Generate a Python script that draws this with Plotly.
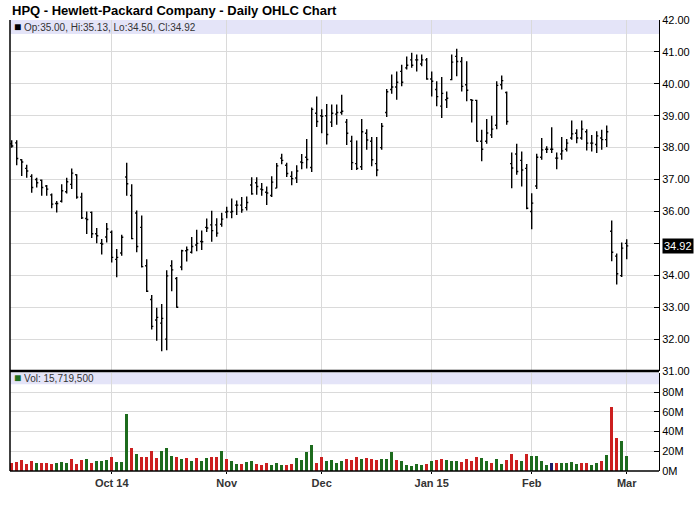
import plotly.graph_objects as go

# HPQ daily OHLC, Sep 3 2014 .. Mar 2 2015 (one entry per trading day)
TITLE = "HPQ - Hewlett-Packard Company - Daily OHLC Chart"

OPEN = [38.12, 38.15, 37.62, 37.35, 37.10, 37.00, 36.98, 36.80, 36.52, 36.25,
        36.32, 36.62, 36.85, 37.15, 36.45, 35.78, 35.97, 35.30, 35.00, 35.20,
        35.35, 34.50, 34.70, 37.08, 36.50, 35.95, 35.50, 34.30, 33.24, 32.60,
        32.50, 32.00, 34.30, 33.90, 34.26, 34.77, 34.72, 34.95, 35.06, 35.50,
        35.58, 35.58, 35.60, 35.98, 35.98, 36.20, 36.20, 36.12, 36.83, 36.90,
        36.70, 36.60, 36.50, 36.73, 37.67, 37.45, 37.10, 37.05, 37.55, 37.70,
        37.38, 39.08, 39.00, 39.00, 38.80, 39.05, 39.10, 38.80, 38.20, 37.50,
        37.40, 38.45, 38.20, 37.50, 38.00, 39.10, 39.82, 39.90, 40.39, 40.50,
        40.75, 40.75, 40.62, 40.75, 40.15, 39.82, 39.30, 39.50, 40.13, 40.86,
        40.70, 39.97, 39.50, 39.48, 38.20, 38.20, 38.40, 38.70, 39.97, 39.73,
        37.50, 37.80, 37.60, 37.35, 36.00, 36.80, 37.70, 37.95, 37.95, 37.67,
        37.80, 37.95, 38.30, 38.45, 38.30, 38.50, 38.14, 38.10, 38.30, 38.25,
        35.38, 34.60, 33.99, 35.00]
HIGH = [38.23, 38.23, 37.64, 37.46, 37.17, 37.06, 37.00, 36.83, 36.56, 36.33,
        36.85, 37.06, 37.35, 37.17, 36.59, 36.00, 36.00, 35.48, 35.14, 35.64,
        35.40, 34.82, 35.27, 37.53, 36.85, 36.03, 35.87, 34.50, 33.38, 32.98,
        33.10, 34.16, 34.47, 33.95, 34.80, 34.90, 35.20, 35.43, 35.40, 35.78,
        36.02, 35.79, 35.96, 36.15, 36.41, 36.34, 36.45, 36.47, 37.07, 37.07,
        36.89, 36.78, 37.10, 37.52, 37.81, 37.53, 37.26, 37.45, 37.80, 38.27,
        39.26, 39.60, 39.20, 39.37, 39.35, 39.35, 39.66, 38.90, 38.37, 38.22,
        38.90, 38.58, 38.33, 38.33, 38.77, 39.84, 40.29, 40.39, 40.60, 40.86,
        40.97, 40.92, 40.92, 40.81, 40.39, 40.08, 40.21, 39.76, 40.92, 41.10,
        40.84, 40.71, 39.52, 39.50, 38.56, 38.90, 39.00, 40.08, 40.26, 39.76,
        37.85, 38.12, 37.88, 37.49, 36.57, 37.81, 38.30, 38.04, 38.64, 37.85,
        38.33, 38.27, 38.85, 38.58, 38.85, 38.58, 38.40, 38.51, 38.56, 38.69,
        35.72, 34.68, 35.03, 35.13]
LOW = [38.00, 37.45, 37.11, 37.06, 36.59, 36.75, 36.49, 36.49, 36.10, 35.97,
       36.28, 36.56, 36.70, 36.40, 35.76, 35.29, 35.17, 35.00, 34.65, 35.03,
       34.40, 33.94, 34.61, 36.49, 35.13, 34.72, 34.24, 33.48, 32.30, 31.95,
       31.62, 31.65, 33.50, 32.98, 34.16, 34.43, 34.68, 34.75, 34.79, 35.36,
       35.05, 35.21, 35.52, 35.79, 35.79, 35.89, 35.96, 36.03, 36.52, 36.52,
       36.49, 36.20, 36.45, 36.73, 37.48, 37.08, 36.82, 36.89, 37.32, 37.35,
       37.24, 38.65, 38.45, 38.10, 38.65, 38.72, 39.03, 38.08, 37.30, 37.30,
       37.30, 37.93, 37.42, 37.10, 37.93, 38.96, 39.69, 39.50, 39.92, 40.45,
       40.50, 40.39, 40.55, 40.13, 39.60, 39.30, 38.93, 39.24, 40.11, 40.24,
       39.76, 39.45, 38.79, 38.19, 37.57, 38.12, 38.30, 38.58, 39.82, 38.72,
       36.73, 37.15, 36.78, 36.07, 35.44, 36.70, 37.62, 37.83, 37.83, 37.32,
       37.62, 37.88, 38.25, 38.14, 38.25, 37.91, 37.88, 37.83, 37.93, 38.02,
       34.44, 33.71, 33.95, 34.50]
CLOSE = [38.05, 37.66, 37.55, 37.27, 36.75, 36.90, 36.75, 36.70, 36.23, 36.25,
         36.65, 36.93, 37.20, 36.45, 35.80, 35.75, 35.30, 35.24, 34.98, 35.45,
         34.56, 34.56, 35.19, 36.87, 35.15, 34.90, 34.27, 33.50, 32.40, 32.68,
         32.65, 33.98, 34.17, 33.00, 34.77, 34.80, 34.90, 35.00, 35.05, 35.48,
         35.40, 35.32, 35.76, 36.00, 36.00, 36.20, 36.05, 36.28, 36.55, 36.78,
         36.68, 36.58, 36.92, 37.43, 37.60, 37.19, 37.03, 37.27, 37.53, 37.63,
         39.20, 38.82, 38.98, 38.41, 39.08, 39.10, 39.14, 38.45, 37.53, 37.35,
         38.50, 38.24, 37.62, 37.30, 38.67, 39.75, 39.90, 40.05, 40.05, 40.58,
         40.58, 40.75, 40.75, 40.15, 40.08, 39.60, 39.70, 39.55, 40.68, 40.70,
         39.92, 39.80, 39.48, 38.20, 37.95, 38.46, 38.58, 39.95, 40.10, 38.82,
         37.36, 37.25, 37.30, 36.10, 36.26, 37.70, 37.93, 37.95, 37.95, 37.67,
         37.90, 38.14, 38.43, 38.30, 38.58, 38.14, 38.14, 38.37, 38.25, 38.50,
         34.72, 34.05, 34.85, 34.92]

# volume in millions of shares; r = red, g = green, n = navy bar
VOLUME_M = [9.0, 9.2, 11.3, 7.2, 10.2, 8.5, 8.5, 8.5, 7.5, 8.5,
            9.6, 8.5, 12.6, 7.5, 11.3, 12.6, 8.5, 10.2, 10.2, 11.6,
            14.7, 9.2, 9.6, 58.5, 23.5, 17.4, 14.7, 14.7, 20.5, 13.7,
            20.5, 23.5, 15.4, 14.3, 12.3, 13.3, 10.6, 13.3, 10.6, 13.3,
            14.3, 14.3, 20.5, 12.3, 10.6, 7.5, 7.5, 9.2, 10.2, 7.5,
            6.5, 8.2, 6.1, 8.2, 6.5, 6.5, 7.5, 13.3, 11.3, 19.5,
            26.6, 8.2, 14.3, 10.6, 11.3, 8.2, 10.6, 12.3, 11.3, 14.3,
            12.3, 13.3, 12.3, 11.3, 12.3, 12.3, 19.5, 11.3, 10.2, 6.1,
            5.1, 7.2, 6.1, 7.2, 10.2, 11.3, 12.3, 11.3, 10.2, 10.2,
            9.2, 12.3, 10.2, 14.3, 13.3, 10.2, 8.2, 12.3, 7.2, 11.3,
            17.4, 11.3, 10.2, 17.4, 15.4, 15.4, 10.2, 6.1, 8.2, 8.2,
            8.2, 8.2, 9.2, 7.2, 8.2, 8.2, 6.1, 8.2, 10.2, 16.4,
            65.0, 34.2, 31.0, 15.7195]
VOL_KEYS = ("rrrrrgrrrgggrrrgrgggrgggrgrrrrgggrgrgrggrrgrggrggrrrgggrrggg"
            "grrggggrrrgrrrgggrgggggrgrrgggrrrrggrggrrrgrggggnrggggrrggrg"
            "rrgg")

MONTH_POS = [20, 43, 62, 84, 104, 123]
MONTH_LABELS = ["Oct 14", "Nov", "Dec", "Jan 15", "Feb", "Mar"]
PRICE_TICKS = [31, 32, 33, 34, 35, 36, 37, 38, 39, 40, 41, 42]
VOL_TICKS = [0, 20, 40, 60, 80]

BAR_COLOURS = {"r": "#cc1f1f", "g": "#1d6b1d", "n": "#1c1c66"}
FONT = "Arial, Liberation Sans, sans-serif"
GRID = "#dadada"

n = len(CLOSE)
xs = list(range(n))
last = n - 1

P_DOM = [0.2217, 1.0]
V_DOM = [0.0, 0.2184]

fig = go.Figure()

fig.add_trace(go.Ohlc(
    x=xs, open=OPEN, high=HIGH, low=LOW, close=CLOSE,
    increasing=dict(line=dict(color="#000000", width=1.4)),
    decreasing=dict(line=dict(color="#000000", width=1.4)),
    tickwidth=0.32, showlegend=False, xaxis="x", yaxis="y",
))

fig.add_trace(go.Bar(
    x=xs, y=[v * 1e6 for v in VOLUME_M],
    marker=dict(color=[BAR_COLOURS[k] for k in VOL_KEYS], line=dict(width=0)),
    width=0.6, showlegend=False, xaxis="x2", yaxis="y2",
))

xcommon = dict(
    range=[-0.34, 129.46], tickmode="array", tickvals=MONTH_POS,
    showgrid=True, gridcolor=GRID, gridwidth=1, zeroline=False, showline=False,
)

price_text = ["" if v == 35 else f"{v:.2f}" for v in PRICE_TICKS]
vol_text = [f"{v}M" for v in VOL_TICKS]

fig.update_layout(
    width=700, height=512,
    margin=dict(l=10, r=41, t=20, b=41),
    paper_bgcolor="white", plot_bgcolor="white",
    font=dict(family=FONT, size=11, color="#000000"),
    bargap=0,
    xaxis=dict(**xcommon, anchor="y", domain=[0, 1], showticklabels=False,
               ticks="", rangeslider=dict(visible=False)),
    xaxis2=dict(**xcommon, anchor="y2", domain=[0, 1], matches="x",
                ticktext=[f"<b>{t}</b>" for t in MONTH_LABELS],
                ticks="outside", ticklen=2, tickcolor="#000000",
                tickfont=dict(size=11, color="#333333")),
    yaxis=dict(domain=P_DOM, anchor="x", side="right", range=[31, 42],
               tickmode="array", tickvals=PRICE_TICKS, ticktext=price_text,
               ticks="inside", ticklen=5, tickcolor="#000000",
               showgrid=True, gridcolor=GRID, zeroline=False,
               showline=True, linecolor="#000000", linewidth=1,
               tickfont=dict(size=11, color="#000000")),
    yaxis2=dict(domain=V_DOM, anchor="x2", side="right", range=[0, 100e6],
                tickmode="array", tickvals=[v * 1e6 for v in VOL_TICKS],
                ticktext=vol_text, ticks="inside", ticklen=5,
                tickcolor="#000000", showgrid=True, gridcolor=GRID,
                zeroline=False, showline=True, linecolor="#000000",
                linewidth=1, tickfont=dict(size=11, color="#000000")),
)

# lavender info bands, panel frame
fig.add_shape(type="rect", xref="x domain", yref="y domain",
              x0=0, x1=1, y0=0.96, y1=1, fillcolor="#e4e4f8",
              line=dict(width=0), layer="below")
fig.add_shape(type="rect", xref="x2 domain", yref="y2 domain",
              x0=0, x1=1, y0=0.88, y1=1, fillcolor="#e4e4f8",
              line=dict(width=0), layer="below")
fig.add_shape(type="line", xref="paper", yref="paper", x0=0, x1=0,
              y0=0, y1=1, line=dict(color="#000000", width=1.5))
fig.add_shape(type="line", xref="paper", yref="paper", x0=0, x1=1,
              y0=0, y1=0, line=dict(color="#000000", width=1.5))
fig.add_shape(type="line", xref="paper", yref="paper", x0=0, x1=1,
              y0=P_DOM[0], y1=P_DOM[0], line=dict(color="#000000", width=2.5))

# title and panel legends
fig.add_annotation(text=f"<b>{TITLE}</b>", xref="paper", yref="paper",
                   x=0, y=1, yshift=10, xanchor="left", yanchor="middle",
                   showarrow=False, font=dict(size=13, color="#000000"))
fig.add_annotation(
    text=(f"<span style='font-size:12px;color:#000000'>■</span> Op:{OPEN[last]:.2f}, "
          f"Hi:{HIGH[last]:.2f}, Lo:{LOW[last]:.2f}, Cl:{CLOSE[last]:.2f}"),
    xref="paper", yref="y domain", x=0, xshift=2, y=0.98,
    xanchor="left", yanchor="middle", showarrow=False,
    font=dict(size=10, color="#333333"))
fig.add_annotation(
    text=(f"<span style='font-size:12px;color:{BAR_COLOURS['g']}'>■</span> "
          f"Vol: {round(VOLUME_M[last] * 1e6):,}"),
    xref="paper", yref="y2 domain", x=0, xshift=2, y=0.94,
    xanchor="left", yanchor="middle", showarrow=False,
    font=dict(size=10, color="#333333"))

# last close marker on the price axis
fig.add_annotation(text=f"{CLOSE[last]:.2f}", xref="paper", yref="y",
                   x=1, xshift=3, y=CLOSE[last], xanchor="left",
                   yanchor="middle", showarrow=False, bgcolor="#000000",
                   borderpad=1, font=dict(size=11, color="#ffffff"))

fig.write_html("out.html", config={"displayModeBar": False},
               post_script="document.body.style.margin='0';")
